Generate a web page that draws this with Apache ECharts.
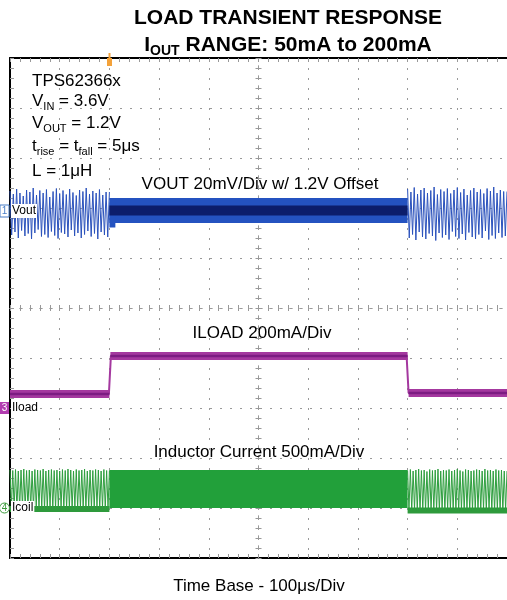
<!DOCTYPE html>
<html>
<head>
<meta charset="utf-8">
<title>Load Transient Response</title>
<script src="https://cdn.jsdelivr.net/npm/echarts@6.0.0/dist/echarts.min.js"></script>
<style>
  html, body { margin: 0; padding: 0; background: #fff; }
  #chart { width: 507px; height: 600px; }
</style>
</head>
<body>
<div id="chart"></div>
<script>
// scope screen, units are divisions (10 x 10), y = 0 at the bottom
var voutPreHi = [7.34, 7.28, 7.38, 7.30, 7.24, 7.36, 7.32, 7.40, 7.26, 7.35, 7.30, 7.37, 7.22, 7.33, 7.39, 7.29, 7.35, 7.27, 7.38, 7.31, 7.25, 7.36, 7.33, 7.40, 7.28, 7.34, 7.30, 7.37, 7.26, 7.32]
var voutPreLo = [6.46, 6.52, 6.40, 6.55, 6.44, 6.49, 6.38, 6.50, 6.57, 6.43, 6.47, 6.41, 6.53, 6.45, 6.39, 6.51, 6.48, 6.42, 6.56, 6.44, 6.50, 6.40, 6.47, 6.54, 6.43, 6.49, 6.38, 6.52, 6.46, 6.42]
var voutPostHi = [7.38, 7.32, 7.41, 7.28, 7.36, 7.40, 7.30, 7.35, 7.42, 7.27, 7.37, 7.33, 7.39, 7.29, 7.36, 7.41, 7.31, 7.38, 7.26, 7.35, 7.40, 7.32, 7.37, 7.29, 7.39, 7.34, 7.42, 7.30, 7.36, 7.33]
var voutPostLo = [6.40, 6.47, 6.36, 6.52, 6.42, 6.38, 6.49, 6.44, 6.35, 6.50, 6.41, 6.46, 6.37, 6.53, 6.43, 6.39, 6.48, 6.36, 6.51, 6.42, 6.38, 6.47, 6.40, 6.54, 6.37, 6.45, 6.39, 6.50, 6.41, 6.44]
var voutMid = [[2.0, 6.95], [8.0, 6.95]]
var voutDip = [[2.0, 6.86], [2.12, 6.86]]

var iload = [[0, 3.28], [1.99, 3.28], [2.03, 4.04], [7.98, 4.04], [8.02, 3.30], [10, 3.30]]
var iloadLow1 = [[0, 3.28], [2.0, 3.28]]
var iloadHigh = [[2.02, 4.04], [8.0, 4.04]]
var iloadLow2 = [[8.02, 3.30], [10, 3.30]]

var icoilPreHi = [1.76, 1.75, 1.77, 1.74, 1.76, 1.78, 1.75, 1.76, 1.74, 1.77, 1.76, 1.75, 1.78, 1.74, 1.76, 1.77, 1.75, 1.76, 1.74, 1.77, 1.75, 1.78, 1.76, 1.74, 1.77, 1.75, 1.76, 1.78, 1.74, 1.76, 1.75, 1.77, 1.76, 1.74, 1.77, 1.75]
var icoilPreLo = [0.99, 1.00, 0.98, 0.99, 1.01, 0.98, 1.00, 0.99, 0.98, 1.00, 0.99, 1.01, 0.98, 0.99, 1.00, 0.98, 0.99, 1.01, 1.00, 0.98, 0.99, 1.00, 0.98, 1.01, 0.99, 1.00, 0.98, 0.99, 1.00, 0.99, 0.98, 1.01, 0.99, 1.00, 0.98, 0.99]
var icoilPostHi = [1.75, 1.77, 1.74, 1.76, 1.78, 1.75, 1.76, 1.73, 1.77, 1.75, 1.76, 1.78, 1.74, 1.76, 1.75, 1.77, 1.74, 1.76, 1.78, 1.75, 1.73, 1.77, 1.76, 1.74, 1.75, 1.77, 1.76, 1.74, 1.78, 1.75, 1.76, 1.74, 1.77, 1.75, 1.76, 1.74]
var icoilPostLo = [0.96, 0.94, 0.97, 0.95, 0.93, 0.96, 0.95, 0.97, 0.94, 0.96, 0.95, 0.93, 0.96, 0.94, 0.97, 0.95, 0.96, 0.94, 0.93, 0.96, 0.95, 0.97, 0.94, 0.95, 0.96, 0.93, 0.95, 0.97, 0.94, 0.96, 0.95, 0.94, 0.96, 0.95, 0.93, 0.96]
var icoilPreBase = [[0, 0.98], [2.0, 0.98]]
var icoilMid = [[2.0, 1.38], [8.0, 1.38]]
var icoilPostBase = [[8.0, 0.95], [10, 0.95]]

var FONT = '"Liberation Sans", Arial, sans-serif'
var NARROW = '"Liberation Sans Narrow", "Liberation Sans", Arial, sans-serif'

// one switching cycle per hi/lo pair, evenly spread over [start, end]
function zigzag(start, end, hi, lo) {
  var step = (end - start) / hi.length
  var pts = []
  for (var i = 0; i < hi.length; i++) {
    pts.push([start + i * step, hi[i]])
    pts.push([start + (i + 0.5) * step, lo[i]])
  }
  pts.push([end, hi[hi.length - 1]])
  return pts
}

function trace(data, color, width) {
  return {
    type: 'line',
    data: data,
    showSymbol: false,
    silent: true,
    animation: false,
    lineStyle: { color: color, width: width, cap: 'butt', join: 'bevel' },
    xAxisIndex: 0,
    yAxisIndex: 0
  }
}

function frameAxis(pos, split) {
  return {
    type: 'value',
    gridIndex: 0,
    position: pos,
    min: 0,
    max: 10,
    interval: 1,
    axisLine: { show: true, lineStyle: { color: '#000', width: 2 } },
    axisTick: { show: true, inside: true, length: 4, lineStyle: { color: '#999' } },
    minorTick: { show: true, splitNumber: 5, length: 4, lineStyle: { color: '#999' } },
    axisLabel: { show: false },
    splitLine: { show: split, lineStyle: { color: '#9a9a9a', type: [2, 8], width: 1 } }
  }
}

function crossAxis(gi, inside) {
  return {
    type: 'value',
    gridIndex: gi,
    min: -5,
    max: 5,
    interval: 1,
    axisLine: { show: true, onZero: true, lineStyle: { color: '#9a9a9a', type: [2, 8], width: 1 } },
    axisTick: { show: true, inside: inside, length: 3, lineStyle: { color: '#999' } },
    minorTick: { show: true, splitNumber: 5, length: 3, lineStyle: { color: '#999' } },
    axisLabel: { show: false },
    splitLine: { show: false }
  }
}

function label(text, x, y, size, extra) {
  var el = {
    type: 'text',
    x: x,
    y: y,
    z: 100,
    style: {
      text: text,
      font: size + 'px ' + FONT,
      fill: '#000',
      align: 'center',
      verticalAlign: 'middle'
    }
  }
  if (extra) {
    for (var k in extra) el.style[k] = extra[k]
  }
  return el
}

var subRich = {
  n: { fontSize: 17, fontFamily: FONT, lineHeight: 22, fill: '#000' },
  s: { fontSize: 11, fontFamily: FONT, lineHeight: 22, verticalAlign: 'bottom', fill: '#000' }
}
var titleRich = {
  n: { fontSize: 21, fontWeight: 'bold', fontFamily: FONT, lineHeight: 27, fill: '#000' },
  s: { fontSize: 14, fontWeight: 'bold', fontFamily: FONT, lineHeight: 27, verticalAlign: 'bottom', fill: '#000' }
}

function chanTag(y, tag, name, color, shape) {
  var mark = shape === 'circle'
    ? { type: 'circle', shape: { cx: 4.5, cy: y, r: 5 }, style: { fill: '#fff', stroke: color, lineWidth: 1 }, z: 100 }
    : { type: 'rect', shape: { x: 0, y: y - 6, width: 9, height: 12 },
        style: shape === 'fill' ? { fill: color } : { fill: '#fff', stroke: color, lineWidth: 1 }, z: 100 }
  return [
    mark,
    { type: 'text', x: 4.5, y: y, z: 101,
      style: { text: tag, font: '10px ' + FONT, fill: shape === 'fill' ? '#fff' : color, align: 'center', verticalAlign: 'middle' } },
    { type: 'text', x: 11, y: y, z: 101,
      style: { text: name, font: '12px ' + NARROW, fill: '#000', align: 'left', verticalAlign: 'middle',
        backgroundColor: '#fff', padding: [1, 1, 1, 1] } }
  ]
}

var chart = echarts.init(document.getElementById('chart'))

var graphics = [
  label('LOAD TRANSIENT RESPONSE', 288, 18, 21, { font: 'bold 21px ' + FONT }),
  { type: 'text', x: 288, y: 45, z: 100,
    style: { text: '{n|I}{s|OUT}{n| RANGE: 50mA to 200mA}', rich: titleRich, align: 'center', verticalAlign: 'middle' } },
  label('TPS62366x', 32, 81, 17, { align: 'left' }),
  { type: 'text', x: 32, y: 101, z: 100,
    style: { text: '{n|V}{s|IN}{n| = 3.6V}', rich: subRich, align: 'left', verticalAlign: 'middle' } },
  { type: 'text', x: 32, y: 123, z: 100,
    style: { text: '{n|V}{s|OUT}{n| = 1.2V}', rich: subRich, align: 'left', verticalAlign: 'middle' } },
  { type: 'text', x: 32, y: 146, z: 100,
    style: { text: '{n|t}{s|rise}{n| = t}{s|fall}{n| = 5μs}', rich: subRich, align: 'left', verticalAlign: 'middle' } },
  label('L = 1μH', 32, 171, 17, { align: 'left' }),
  label('VOUT 20mV/Div w/ 1.2V Offset', 260, 184, 17),
  label('ILOAD 200mA/Div', 262, 333, 17),
  label('Inductor Current 500mA/Div', 259, 452, 17),
  label('Time Base - 100μs/Div', 259, 586, 17),
  // trigger position marker
  { type: 'rect', shape: { x: 107, y: 58, width: 5, height: 8 }, style: { fill: '#f4a23a' }, z: 100 },
  { type: 'rect', shape: { x: 108.5, y: 53, width: 2, height: 6 }, style: { fill: '#f4a23a' }, z: 100 }
]
graphics = graphics
  .concat(chanTag(211, '1', 'Vout', '#4a7fc8', 'box'))
  .concat(chanTag(408, '3', 'Iload', '#b23cb0', 'fill'))
  .concat(chanTag(508, '4', 'Icoil', '#3a9a3a', 'circle'))

var option = {
  animation: false,
  backgroundColor: '#fff',
  grid: [
    { left: 10, top: 58, width: 500, height: 500, show: false },
    { left: 10, top: 58, width: 500, height: 500, show: false },
    { left: 10, top: 58, width: 500, height: 500, show: false }
  ],
  xAxis: [frameAxis('bottom', true), frameAxis('top', false), crossAxis(1, true), crossAxis(2, false)],
  yAxis: [frameAxis('left', true), crossAxis(1, true), crossAxis(2, false)],
  graphic: graphics,
  series: [
    trace(icoilPreBase, '#2e9a3c', 6),
    trace(zigzag(0, 2, icoilPreHi, icoilPreLo), '#2e9e3e', 1),
    trace(icoilMid, '#22a03a', 38),
    trace(icoilPostBase, '#2e9a3c', 6),
    trace(zigzag(8, 10, icoilPostHi, icoilPostLo), '#2e9e3e', 1),

    trace(iload, '#a4389f', 2),
    trace(iloadLow1, '#a4389f', 8),
    trace(iloadHigh, '#a4389f', 8),
    trace(iloadLow2, '#a4389f', 8),
    trace(iloadLow1, '#7c1c82', 2.5),
    trace(iloadHigh, '#7c1c82', 2.5),
    trace(iloadLow2, '#7c1c82', 2.5),

    trace(zigzag(0, 2, voutPreHi, voutPreLo), '#2b52bc', 1),
    trace(voutMid, '#2452c0', 25),
    trace(voutDip, '#2452c0', 25),
    trace(voutMid, '#0c1d6b', 10),
    trace(zigzag(8, 10, voutPostHi, voutPostLo), '#2b52bc', 1)
  ]
}

chart.setOption(option)
</script>
</body>
</html>
